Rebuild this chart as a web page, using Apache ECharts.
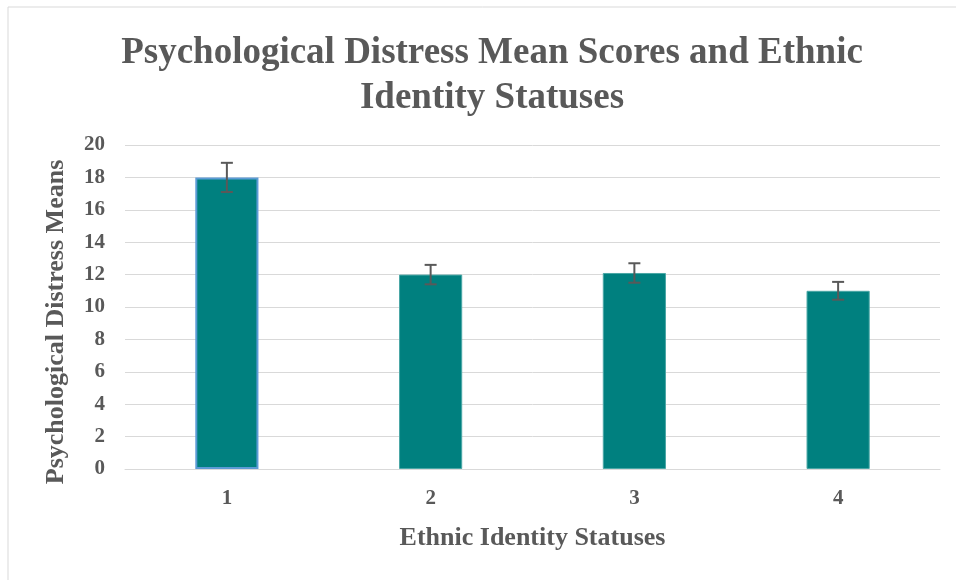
<!DOCTYPE html>
<html>
<head>
<meta charset="utf-8">
<script src="https://cdn.jsdelivr.net/npm/echarts@6/dist/echarts.min.js"></script>
<style>html,body{margin:0;padding:0;background:#fff}#c{width:956px;height:580px}</style>
</head>
<body>
<div id="c"></div>
<script>
const categories = ['1', '2', '3', '4'];
const means = [18.0, 12.0, 12.1, 11.0];
const errors = [0.9, 0.6, 0.6, 0.55];
const yTicks = [0, 2, 4, 6, 8, 10, 12, 14, 16, 18, 20];

const chart = echarts.init(document.getElementById('c'));
const font = '"Liberation Serif", "Times New Roman", serif';
const grey = '#595959';

const errData = categories.map((c, i) => [i, means[i] - errors[i], means[i] + errors[i]]);

chart.setOption({
  animation: false,
  graphic: [{
    type: 'rect', silent: true,
    shape: { x: 8, y: 7, width: 1000, height: 620 },
    style: { fill: 'none', stroke: '#d9d9d9', lineWidth: 1 }
  }],
  title: {
    text: 'Psychological Distress Mean Scores and Ethnic\nIdentity Statuses',
    left: 487, top: 26, textAlign: 'center',
    textStyle: { fontFamily: font, fontWeight: 'bold', fontSize: 37, color: grey, lineHeight: 45 }
  },
  grid: { left: 125, right: 16, top: 145, bottom: 111 },
  xAxis: {
    type: 'category', data: categories,
    name: 'Ethnic Identity Statuses', nameLocation: 'middle', nameGap: 56,
    nameTextStyle: { fontFamily: font, fontWeight: 'bold', fontSize: 26, color: grey },
    axisLine: { lineStyle: { color: '#d9d9d9' } },
    axisTick: { show: false },
    axisLabel: { fontFamily: font, fontWeight: 'bold', fontSize: 21, color: grey, margin: 19 }
  },
  yAxis: {
    type: 'value', min: 0, max: 20, interval: 2,
    name: 'Psychological Distress Means', nameLocation: 'middle', nameGap: 56,
    nameTextStyle: { fontFamily: font, fontWeight: 'bold', fontSize: 26, color: grey, padding: [0, 30, 0, 0] },
    axisLine: { show: false }, axisTick: { show: false },
    splitLine: { lineStyle: { color: '#d9d9d9', width: 1 } },
    axisLabel: { fontFamily: font, fontWeight: 'bold', fontSize: 21, color: grey, margin: 20,
      formatter: v => yTicks.includes(v) ? String(v) : '' }
  },
  series: [{
    type: 'bar', data: means.map((v, i) => i === 0 ? { value: v, itemStyle: { borderColor: '#5B9BD5', borderWidth: 2 } } : v),
    barWidth: '31%',
    itemStyle: { color: '#00807F', borderColor: '#4aa7a6', borderWidth: 1 }
  }, {
    type: 'custom', data: errData, z: 10,
    renderItem: function (params, api) {
      const x = api.coord([api.value(0), 0])[0];
      const lo = api.coord([api.value(0), api.value(1)])[1];
      const hi = api.coord([api.value(0), api.value(2)])[1];
      const hw = 6;
      const st = { stroke: '#595959', lineWidth: 2 };
      return { type: 'group', children: [
        { type: 'line', shape: { x1: x, y1: lo, x2: x, y2: hi }, style: st },
        { type: 'line', shape: { x1: x - hw, y1: lo, x2: x + hw, y2: lo }, style: st },
        { type: 'line', shape: { x1: x - hw, y1: hi, x2: x + hw, y2: hi }, style: st }
      ] };
    }
  }]
});
</script>
</body>
</html>
